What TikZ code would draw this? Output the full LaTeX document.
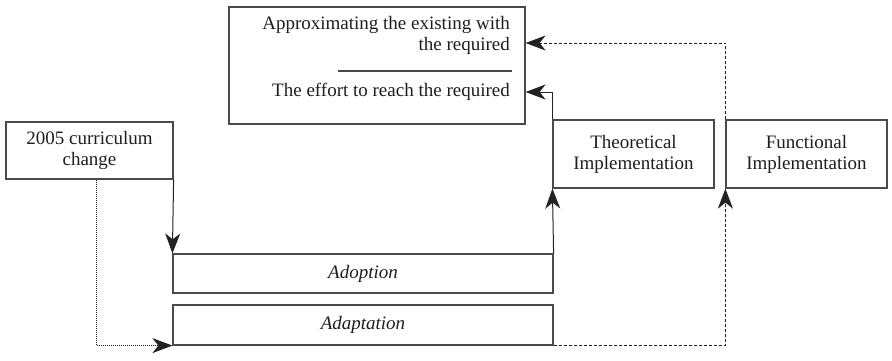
\documentclass[tikz,border=0pt]{standalone}
\usepackage{fontspec}
\setmainfont{Liberation Serif}
\usetikzlibrary{arrows.meta}
\definecolor{color_box_border}{HTML}{4A4A4A}
\definecolor{color_link}{HTML}{222222}
\definecolor{color_text}{HTML}{1E1E1E}
\def\boxlinewidth{1.2pt}
\def\labelsize{\fontsize{19}{21}\selectfont}
\tikzset{
    stagebox/.style={draw=color_box_border, line width=\boxlinewidth, rectangle, inner sep=0pt,
        text=color_text, align=center, font=\labelsize},
    goaltext/.style={anchor=east, inner sep=0pt, text=color_text, align=right, font=\labelsize},
    tip/.tip={Stealth[length=20pt,width=15pt,inset=6pt]},
    link/.style={color_link, line width=1pt, -tip},
    weaklink/.style={link, densely dashed},
    dottedlink/.style={link, densely dotted},
}

\begin{document}
\begin{tikzpicture}[x=1pt,y=-1pt]
        \useasboundingbox (0,0) rectangle (892,360);
        % the target box
        \node[stagebox, minimum width=296pt, minimum height=117pt] (goal) at (377,65.5) {};
        \node[goaltext] (approx) at (510,35) {Approximating the existing with\\the required};
        \node[goaltext] (effort) at (510,92) {The effort to reach the required};
        \draw[color_box_border, line width=1.4pt] (338,71) -- (512,71);
        \coordinate (inapprox) at ([yshift=22.5pt]goal.east);
        % the stages
        \node[stagebox, minimum width=167pt, minimum height=57pt] (origin) at (89.5,150.5) {2005 curriculum\\change};
        \node[stagebox, minimum width=380pt, minimum height=39pt] (adoption) at (363,273.5) {\itshape Adoption};
        \node[stagebox, minimum width=380pt, minimum height=40pt] (adaptation) at (363,325) {\itshape Adaptation};
        \node[stagebox, minimum width=161pt, minimum height=68pt] (theory) at (633.5,154) {Theoretical\\Implementation};
        \node[stagebox, minimum width=161pt, minimum height=68pt] (practice) at (806.5,154) {Functional\\Implementation};
        % connectors
        \draw[link] (origin.south east) -- (adoption.north west);
        \draw[dottedlink] ([xshift=7pt]origin.south) |- (adaptation.south west);
        \draw[link] (adoption.north east) -- (theory.south west);
        \draw[link] (theory.north west) |- (goal.east |- effort);
        \draw[weaklink] (adaptation.south east) -| (practice.south west);
        \draw[weaklink] (practice.north west) |- (inapprox);
\end{tikzpicture}
\end{document}
